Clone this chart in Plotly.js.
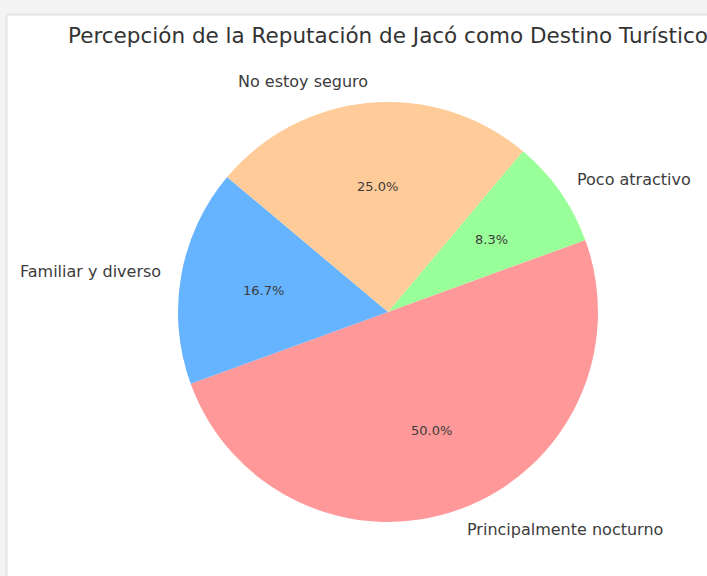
<!DOCTYPE html>
<html>
<head>
<meta charset="utf-8">
<script src="https://cdn.plot.ly/plotly-3.0.1.min.js"></script>
<style>html,body{margin:0;padding:0;background:#f4f4f4;}#chart{width:707px;height:576px;}</style>
</head>
<body>
<div id="chart"></div>
<script>
// Data (slices in clockwise order, starting from the upper-right edge)
const labels = ["Poco atractivo", "Principalmente nocturno", "Familiar y diverso", "No estoy seguro"];
const counts = [1, 6, 2, 3];
const colors = ["#99ff99", "#ff9999", "#66b3ff", "#ffcc99"];
const titleText = "Percepción de la Reputación de Jacó como Destino Turístico";

const W = 707, H = 576;
const cx = 388, cy = 312, R = 210;   // pie placement in pixels
const rotation = 40;                 // degrees clockwise from 12 o'clock

const total = counts.reduce((a, b) => a + b, 0);
const annotations = [];
let startMath = 90 - rotation;       // math angle (deg, ccw from east)
counts.forEach((v, i) => {
  const span = v / total * 360;
  const mid = (startMath - span / 2) * Math.PI / 180;
  startMath -= span;
  const c = Math.cos(mid), s = Math.sin(mid);
  // outside label at 1.1 R
  annotations.push({
    xref: "paper", yref: "paper",
    x: (cx + 1.1 * R * c) / W, y: (H - (cy - 1.1 * R * s)) / H,
    xanchor: c < 0 ? "right" : "left", yanchor: "middle",
    xshift: c < 0 ? 1.5 : -1,
    text: labels[i], showarrow: false, borderpad: 0,
    font: {family: "DejaVu Sans", size: 16, color: "#3c3c3c"}
  });
  // percentage at 0.6 R
  annotations.push({
    xref: "paper", yref: "paper",
    x: (cx + 0.6 * R * c) / W, y: (H - (cy - 0.6 * R * s)) / H,
    xanchor: "center", yanchor: "middle",
    text: (v / total * 100).toFixed(1) + "%", showarrow: false, borderpad: 0,
    font: {family: "DejaVu Sans", size: 13, color: "#3c3c3c"}
  });
});

// title (centred over the pie, allowed to run past the right edge)
annotations.push({
  xref: "paper", yref: "paper",
  x: cx / W, y: 1 - 35.5 / H,
  xanchor: "center", yanchor: "middle",
  text: titleText, showarrow: false, borderpad: 0,
  font: {family: "DejaVu Sans", size: 21.5, color: "#333333"}
});

const shapes = [
  {type: "rect", xref: "paper", yref: "paper", x0: 5 / W, x1: 1.01, y0: -0.01, y1: (H - 13) / H, fillcolor: "#ececec", line: {width: 0}, layer: "below"},
  {type: "rect", xref: "paper", yref: "paper", x0: 6 / W, x1: 1.01, y0: -0.01, y1: (H - 14) / H, fillcolor: "#e6e6e6", line: {width: 0}, layer: "below"},
  {type: "rect", xref: "paper", yref: "paper", x0: 7 / W, x1: 1.01, y0: -0.01, y1: (H - 15) / H, fillcolor: "#eeeeee", line: {width: 0}, layer: "below"},
  {type: "rect", xref: "paper", yref: "paper", x0: 8 / W, x1: 1.01, y0: -0.01, y1: (H - 16) / H, fillcolor: "#ffffff", line: {width: 0}, layer: "below"}
];

const data = [{
  type: "pie",
  labels: labels,
  values: counts,
  sort: false,
  direction: "clockwise",
  rotation: rotation,
  marker: {colors: colors, line: {width: 0}},
  textinfo: "none",
  hoverinfo: "label+percent",
  showlegend: false,
  domain: {x: [(cx - R) / W, (cx + R) / W], y: [(H - cy - R) / H, (H - cy + R) / H]}
}];

const layout = {
  width: W, height: H,
  margin: {l: 0, r: 0, t: 0, b: 0},
  paper_bgcolor: "#f4f4f4",
  showlegend: false,
  shapes: shapes,
  annotations: annotations
};

Plotly.newPlot("chart", data, layout, {displayModeBar: false, staticPlot: true});
</script>
</body>
</html>
